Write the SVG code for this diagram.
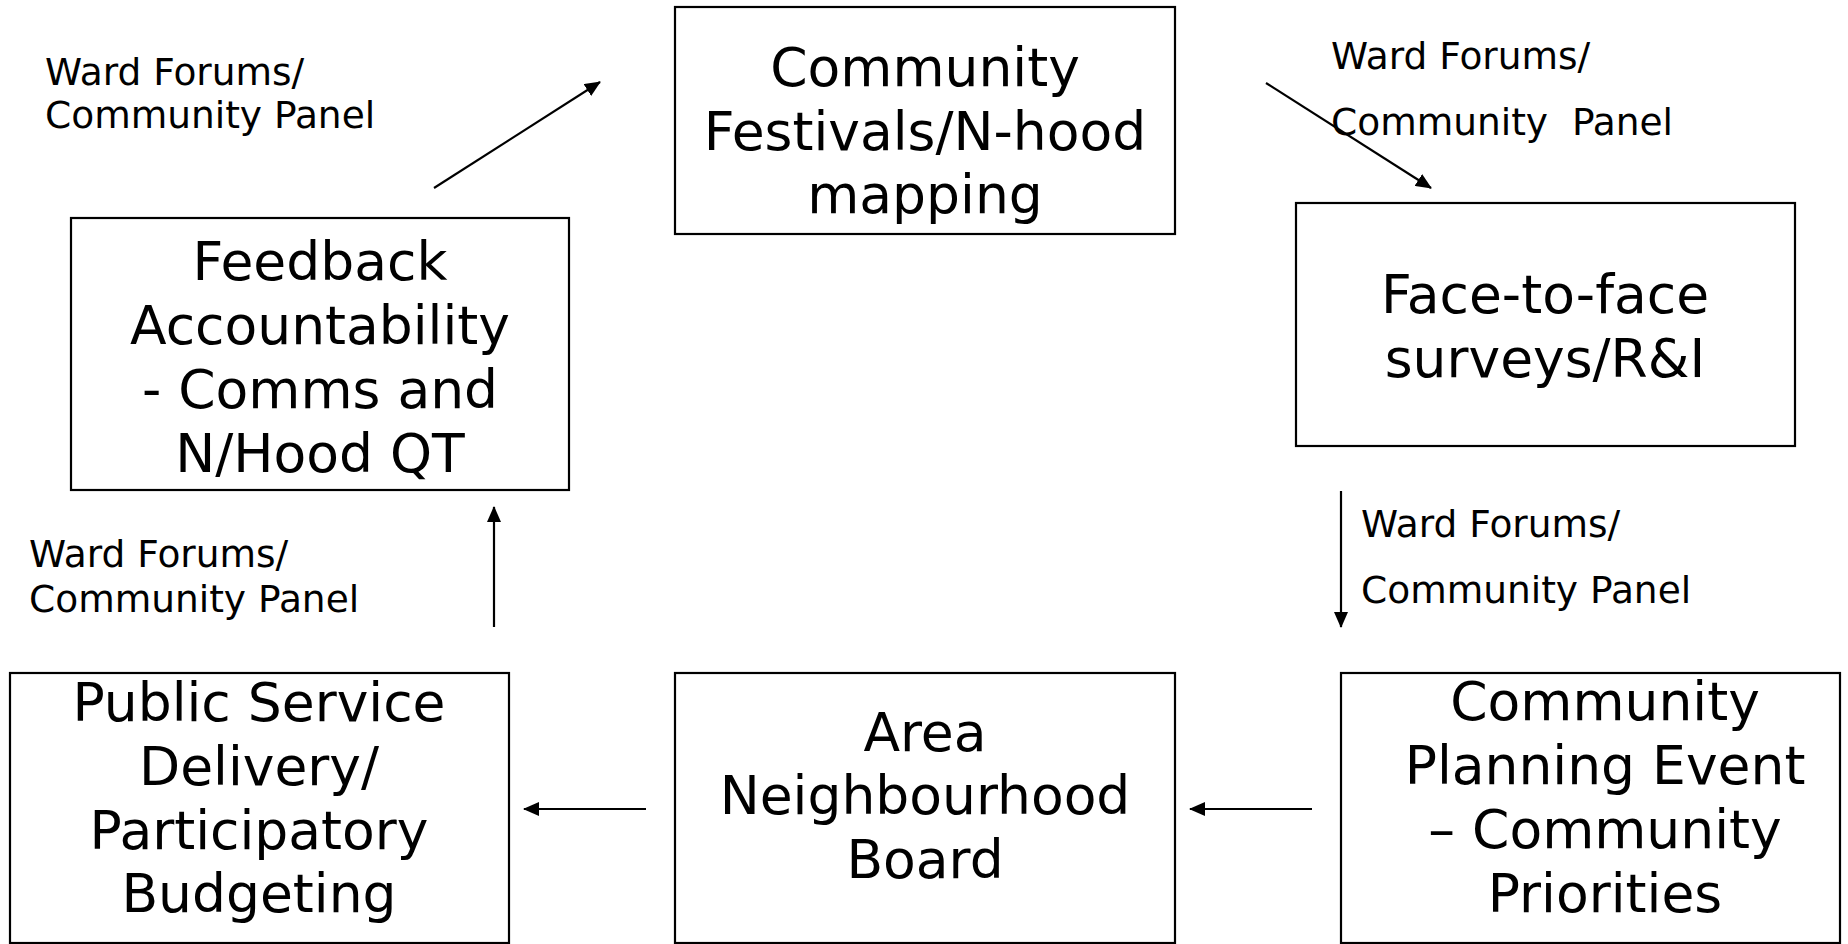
<svg xmlns="http://www.w3.org/2000/svg" width="1848" height="944" viewBox="0 0 1848 944">
<style>
.box{fill:#fff;stroke:#000;stroke-width:2.2}
.t{font-family:"DejaVu Sans","Verdana","Liberation Sans",sans-serif;font-size:53.5px;fill:#000;text-anchor:middle}
.l{font-family:"DejaVu Sans","Verdana","Liberation Sans",sans-serif;font-size:37.5px;fill:#000;white-space:pre}
.c{stroke:#000;stroke-width:2.2;fill:none;marker-end:url(#ah)}
</style>
<defs>
<marker id="ah" markerUnits="userSpaceOnUse" markerWidth="16" markerHeight="14" refX="15" refY="7" orient="auto">
<path d="M0,0 L16,7 L0,14 z" fill="#000"/>
</marker>
</defs>
<rect width="1848" height="944" fill="#fff"/>
<g id="connectors">
<line class="c" x1="434" y1="188" x2="600" y2="82"/>
<line class="c" x1="1266" y1="83" x2="1431" y2="188"/>
<line class="c" x1="494" y1="627" x2="494" y2="507"/>
<line class="c" x1="1341" y1="491" x2="1341" y2="627"/>
<line class="c" x1="646" y1="809" x2="524" y2="809"/>
<line class="c" x1="1312" y1="809" x2="1190" y2="809"/>
</g>
<g id="labels">
<text class="l" x="45" y="85">Ward Forums/</text>
<text class="l" x="45" y="128">Community Panel</text>
<text class="l" x="1331" y="69">Ward Forums/</text>
<text class="l" x="1331" y="135" xml:space="preserve">Community  Panel</text>
<text class="l" x="29" y="567">Ward Forums/</text>
<text class="l" x="29" y="612">Community Panel</text>
<text class="l" x="1361" y="537">Ward Forums/</text>
<text class="l" x="1361" y="603">Community Panel</text>
</g>
<g id="node-festivals">
<rect class="box" x="675" y="7" width="500" height="227"/>
<text class="t" x="925" y="86">Community</text>
<text class="t" x="925" y="150">Festivals/N-hood</text>
<text class="t" x="925" y="213">mapping</text>
</g>
<g id="node-feedback">
<rect class="box" x="71" y="218" width="498" height="272"/>
<text class="t" x="320" y="280">Feedback</text>
<text class="t" x="320" y="344">Accountability</text>
<text class="t" x="320" y="408">- Comms and</text>
<text class="t" x="320" y="472">N/Hood QT</text>
</g>
<g id="node-face">
<rect class="box" x="1296" y="203" width="499" height="243"/>
<text class="t" x="1545" y="313">Face-to-face</text>
<text class="t" x="1545" y="377">surveys/R&amp;I</text>
</g>
<g id="node-public">
<rect class="box" x="10" y="673" width="499" height="270"/>
<text class="t" x="259" y="721">Public Service</text>
<text class="t" x="259" y="785">Delivery/</text>
<text class="t" x="259" y="849">Participatory</text>
<text class="t" x="259" y="912">Budgeting</text>
</g>
<g id="node-area">
<rect class="box" x="675" y="673" width="500" height="270"/>
<text class="t" x="925" y="751">Area</text>
<text class="t" x="925" y="814">Neighbourhood</text>
<text class="t" x="925" y="878">Board</text>
</g>
<g id="node-planning">
<rect class="box" x="1341" y="673" width="499" height="270"/>
<text class="t" x="1605" y="720">Community</text>
<text class="t" x="1605" y="784">Planning Event</text>
<text class="t" x="1605" y="848">– Community</text>
<text class="t" x="1605" y="912">Priorities</text>
</g>
</svg>
